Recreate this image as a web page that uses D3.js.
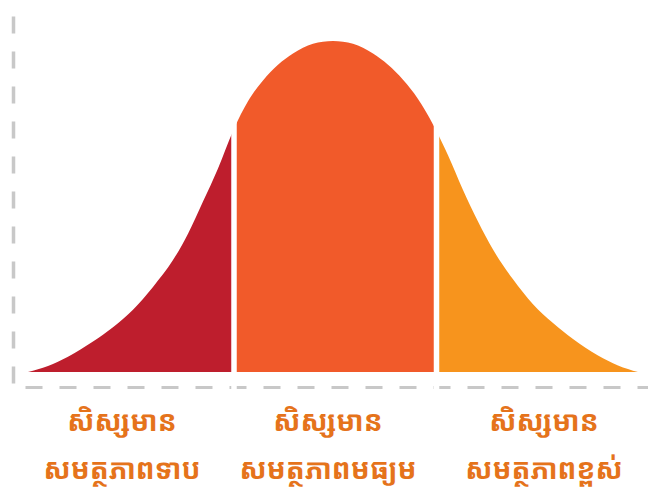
<!DOCTYPE html>
<html>
<head>
<meta charset="utf-8">
<script src="https://cdn.jsdelivr.net/npm/d3@7"></script>
<style>
  html, body { margin: 0; padding: 0; background: #fff; }
  svg { display: block; }
  .label { font-family: "Noto Sans Khmer", "Khmer OS", "Khmer OS System", "Noto Sans", sans-serif; }
</style>
</head>
<body>
<svg id="chart"></svg>
<script>
// bell curve (score in SD units, relative height)
const curveZ = [-3.05, -2.85, -2.65, -2.4, -2.2, -2.0, -1.8, -1.6, -1.45, -1.3, -1.15, -1.0, -0.85, -0.7, -0.55, -0.4, -0.2, 0, 0.2, 0.4, 0.55, 0.7, 0.85, 1.0, 1.15, 1.3, 1.45, 1.6, 1.8, 2.0, 2.2, 2.4, 2.65, 2.85, 3.05];
const curveH = [0, 0.018, 0.046, 0.092, 0.135, 0.188, 0.257, 0.338, 0.418, 0.515, 0.615, 0.728, 0.818, 0.881, 0.928, 0.962, 0.992, 1.0, 0.992, 0.962, 0.928, 0.883, 0.825, 0.748, 0.655, 0.55, 0.455, 0.37, 0.28, 0.205, 0.148, 0.10, 0.05, 0.02, 0];

// group cut points (SD units)
const cutoffs = [-0.99, 1.035];
const groupColors = ['#be1e2d', '#f15a2a', '#f7941d'];
const labelTop = ['សិស្សមាន', 'សិស្សមាន', 'សិស្សមាន'];
const labelBottom = ['សមត្ថភាពទាប', 'សមត្ថភាពមធ្យម', 'សមត្ថភាពខ្ពស់'];
const labelAt = [-2.11, -0.05, 2.11];

const width = 648;
const height = 490;

const svg = d3.select('#chart')
  .attr('width', width)
  .attr('height', height);

const x = d3.scaleLinear().domain([-3.33, 3.15]).range([0, width]);
const y = d3.scaleLinear().domain([0, 1]).range([372, 41]);

const points = curveZ.map((z, i) => ({ z, h: curveH[i] }));

const area = d3.area()
  .x(d => x(d.z))
  .y0(y(0))
  .y1(d => y(d.h))
  .curve(d3.curveMonotoneX);

// one clip per group, between the cut points
const bounds = [x.domain()[0], ...cutoffs, x.domain()[1]];
const groups = groupColors.map((c, i) => ({
  color: c,
  lo: x(bounds[i]),
  hi: x(bounds[i + 1])
}));

const defs = svg.append('defs');
defs.selectAll('clipPath')
  .data(groups)
  .enter()
  .append('clipPath')
  .attr('id', (d, i) => 'clip' + i)
  .append('rect')
  .attr('x', d => d.lo)
  .attr('y', 0)
  .attr('width', d => d.hi - d.lo)
  .attr('height', height);

// axes (dashed, no ticks)
const yAxisScale = d3.scaleLinear().range([383, 12]);
const xAxisScale = d3.scaleLinear().range([25, width]);

svg.append('g')
  .attr('transform', 'translate(13,0)')
  .call(d3.axisLeft(yAxisScale).tickValues([]).tickSizeOuter(0))
  .select('.domain')
  .style('stroke', '#c8c8c8')
  .style('stroke-width', 3.5)
  .style('stroke-dasharray', '17,18');

svg.append('g')
  .attr('transform', 'translate(0,387)')
  .call(d3.axisBottom(xAxisScale).tickValues([]).tickSizeOuter(0))
  .select('.domain')
  .style('stroke', '#c8c8c8')
  .style('stroke-width', 3)
  .style('stroke-dasharray', '17,17');

svg.selectAll('path.group')
  .data(groups)
  .enter()
  .append('path')
  .attr('class', 'group')
  .attr('clip-path', (d, i) => `url(#clip${i})`)
  .attr('d', area(points))
  .style('fill', d => d.color);

// white separators between groups
svg.selectAll('line.sep')
  .data(cutoffs)
  .enter()
  .append('line')
  .attr('class', 'sep')
  .attr('x1', d => x(d))
  .attr('x2', d => x(d))
  .attr('y1', 0)
  .attr('y2', 396)
  .style('stroke', '#fff')
  .style('stroke-width', 5.5);

const labels = svg.selectAll('text.label')
  .data(labelAt)
  .enter()
  .append('text')
  .attr('class', 'label')
  .attr('text-anchor', 'middle')
  .style('fill', '#e5731b')
  .style('font-size', '28px')
  .style('font-weight', 'bold');

labels.append('tspan')
  .attr('x', d => x(d))
  .attr('y', 431)
  .text((d, i) => labelTop[i]);

labels.append('tspan')
  .attr('x', d => x(d))
  .attr('y', 479)
  .text((d, i) => labelBottom[i]);
</script>
</body>
</html>
